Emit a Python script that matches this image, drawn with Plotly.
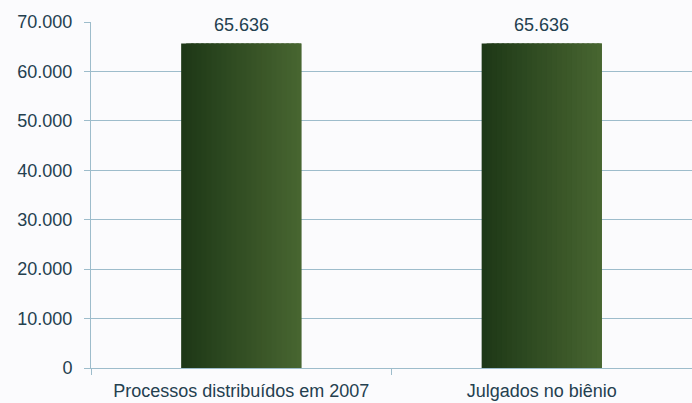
import plotly.graph_objects as go

categories = ["Processos distribuídos em 2007", "Julgados no biênio"]
values = [65636, 65636]
y_ticks = [0, 10000, 20000, 30000, 40000, 50000, 60000, 70000]

# horizontal gradient approximation: strips from dark to lighter green
def lerp(c1, c2, t):
    return "#%02x%02x%02x" % tuple(round(a + (b - a) * t) for a, b in zip(c1, c2))

dark = (0x1e, 0x38, 0x17)
light = (0x47, 0x65, 0x30)
n = 24
bar_w = 0.4
step = bar_w / n
fig = go.Figure()
for i in range(n):
    w = step if i == n - 1 else step * 2.5
    w = min(w, bar_w - i * step)
    fig.add_trace(go.Bar(
        x=categories, y=values,
        width=w,
        offset=-bar_w / 2 + i * step,
        marker=dict(color=lerp(dark, light, i / (n - 1)), line=dict(width=0)),
        hoverinfo="skip", showlegend=False,
    ))

txt_color = "#24404f"
for c, v in zip(categories, values):
    fig.add_annotation(x=c, y=v, text=f"{v:,}".replace(",", "."), showarrow=False,
                       yanchor="bottom", yshift=7,
                       font=dict(family="Liberation Sans, Arial", size=18, color=txt_color))

grid = "#9dbccb"
fig.update_layout(
    width=692, height=403,
    margin=dict(l=91, r=0, t=22, b=35),
    paper_bgcolor="#fbfbfd", plot_bgcolor="#fbfbfd",
    barmode="overlay",
    separators=",.",
    font=dict(family="Liberation Sans, Arial", size=18, color=txt_color),
    xaxis=dict(showline=True, linecolor=grid, linewidth=1, ticks="outside",
               tickson="boundaries", ticklen=6, tickcolor=grid, showgrid=False,
               ticklabelstandoff=6,
               tickfont=dict(size=18, color=txt_color)),
    yaxis=dict(range=[0, 70000], tickvals=y_ticks, tickformat=",d",
               showline=True, linecolor=grid, linewidth=1, ticks="outside",
               ticklen=6, tickcolor=grid, gridcolor=grid, gridwidth=1,
               ticklabelstandoff=8,
               zeroline=False, tickfont=dict(size=18, color=txt_color)),
)
fig.write_html("out.html")
